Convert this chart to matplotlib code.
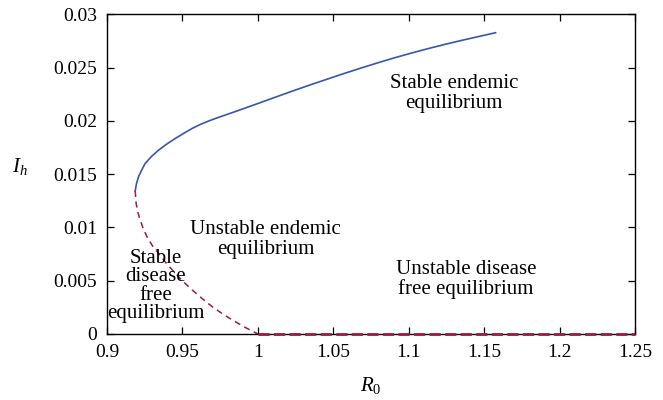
import numpy as np
import matplotlib
matplotlib.use('Agg')
from matplotlib import pyplot as plt

# stable endemic branch (upper, solid)
stableR0 = [0.9187, 0.9195, 0.9209, 0.9230, 0.9253, 0.9295, 0.9342, 0.9395, 0.9453, 0.9510, 0.9565,
            0.9620, 0.9675, 0.9730, 0.9787, 0.9842, 0.9898, 0.9953, 1.0009, 1.0120, 1.0242, 1.0350,
            1.0465, 1.0575, 1.0687, 1.0800, 1.0909, 1.1020, 1.1131, 1.1240, 1.1353, 1.1465, 1.1575]
stableIh = [0.01344, 0.01410, 0.01476, 0.01540, 0.01601, 0.01667, 0.01726, 0.01782, 0.01836, 0.01885, 0.01930,
            0.01968, 0.02000, 0.02029, 0.02057, 0.02084, 0.02112, 0.02140, 0.02168, 0.02225, 0.02287, 0.02340,
            0.02395, 0.02447, 0.02498, 0.02548, 0.02594, 0.02638, 0.02680, 0.02719, 0.02757, 0.02793, 0.02828]

# unstable endemic branch (lower, dashed)
unstableR0 = [0.9187, 0.9193, 0.9205, 0.9220, 0.9240, 0.9265, 0.9300, 0.9342, 0.9395, 0.9453, 0.9510,
              0.9565, 0.9630, 0.9698, 0.9765, 0.9831, 0.9910, 1.0000]
unstableIh = [0.01344, 0.01226, 0.01140, 0.01069, 0.00990, 0.00913, 0.00830, 0.00757, 0.00660, 0.00569, 0.00485,
              0.00413, 0.00333, 0.00256, 0.00190, 0.00131, 0.00066, 0.0]

# disease free equilibrium for R0 > 1
dfeR0 = [1.0, 1.25]
dfeIh = [0.0, 0.0]

xticks = [0.9, 0.95, 1.0, 1.05, 1.1, 1.15, 1.2, 1.25]
xtickLabels = ['0.9', '0.95', '1', '1.05', '1.1', '1.15', '1.2', '1.25']
yticks = [0, 0.005, 0.01, 0.015, 0.02, 0.025, 0.03]
ytickLabels = ['0', '0.005', '0.01', '0.015', '0.02', '0.025', '0.03']

blue = '#3856ad'
red = '#9e1a40'

plt.rcParams['font.family'] = ['Liberation Serif', 'DejaVu Serif']
plt.rcParams['mathtext.fontset'] = 'custom'
plt.rcParams['mathtext.it'] = 'Liberation Serif:italic'
plt.rcParams['mathtext.rm'] = 'Liberation Serif'

fig = plt.figure(figsize=(6.63, 4.0), dpi=100)
ax = fig.add_axes([0.1614, 0.165, 0.958 - 0.1614, 0.964 - 0.165])

ax.plot(stableR0, stableIh, color=blue, lw=1.2)
ax.plot(unstableR0, unstableIh, color=red, lw=1.1, dashes=(4, 3))
ax.plot(dfeR0, dfeIh, color=red, lw=2.0, dashes=(4, 1.6), clip_on=False, zorder=5)

ax.set_xlim(0.9, 1.25)
ax.set_ylim(0, 0.03)
ax.set_xticks(xticks)
ax.set_xticklabels(xtickLabels)
ax.set_yticks(yticks)
ax.set_yticklabels(ytickLabels)
ax.tick_params(direction='in', top=True, right=True, labelsize=14, length=5, width=0.9, pad=7)
for sp in ax.spines.values():
  sp.set_linewidth(1.0)

ax.set_xlabel('$R_0$', fontsize=15, labelpad=10)
ax.set_ylabel('$I_h$', fontsize=15, rotation=0)
ax.yaxis.set_label_coords(-0.165, 0.49)

fs = 15
ax.text(1.130, 0.0226, 'Stable endemic\nequilibrium', ha='center', va='center', fontsize=fs, linespacing=1.05)
ax.text(1.005, 0.0089, 'Unstable endemic\nequilibrium', ha='center', va='center', fontsize=fs, linespacing=1.05)
ax.text(0.9325, 0.0045, 'Stable\ndisease\nfree\nequilibrium', ha='center', va='center', fontsize=fs, linespacing=0.97)
ax.text(1.138, 0.0051, 'Unstable disease\nfree equilibrium', ha='center', va='center', fontsize=fs, linespacing=1.05)

fig.savefig('out.png', dpi=100)
